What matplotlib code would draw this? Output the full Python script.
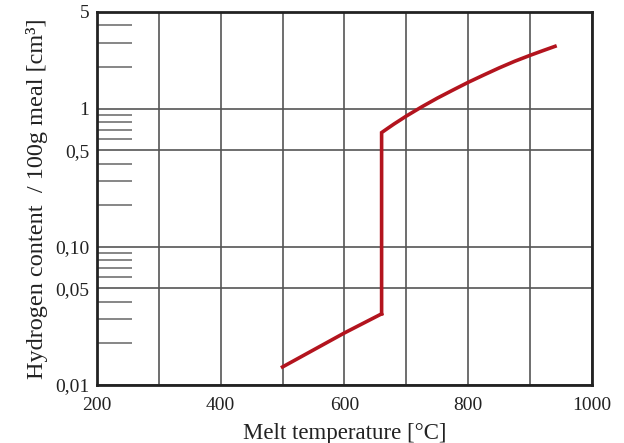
import matplotlib
matplotlib.use("Agg")
import matplotlib.pyplot as plt
from matplotlib.ticker import FixedLocator

# Hydrogen solubility curve
temp_solid = [500, 600, 660]
h2_solid = [0.0135, 0.0238, 0.0327]

temp_liquid = [660, 660, 670, 680, 690, 700, 725, 750, 775, 800,
               825, 850, 875, 900, 920, 940]
h2_liquid = [0.0327, 0.67, 0.72, 0.773, 0.826, 0.883, 1.03, 1.19, 1.36, 1.55,
             1.75, 1.97, 2.2, 2.43, 2.62, 2.82]

x_ticks = [200, 400, 600, 800, 1000]
x_grid = [300, 500, 700, 900]
y_ticks = [0.01, 0.05, 0.1, 0.5, 1, 5]
y_labels = ["0,01", "0,05", "0,10", "0,5", "1", "5"]
y_minor = [0.02, 0.03, 0.04, 0.06, 0.07, 0.08, 0.09,
           0.2, 0.3, 0.4, 0.6, 0.7, 0.8, 0.9,
           2, 3, 4]

plt.rcParams['font.family'] = ['Liberation Serif', 'DejaVu Serif']

fig = plt.figure(figsize=(6.24, 4.43), dpi=100)
ax = fig.add_axes([0.155, 0.131, 0.794, 0.842])

ax.plot(temp_solid, h2_solid, color="#b3141e", lw=2.6, solid_joinstyle="miter")
ax.plot(temp_liquid, h2_liquid, color="#b3141e", lw=2.6, solid_joinstyle="miter")

ax.set_yscale("log")
ax.set_xlim(200, 1000)
ax.set_ylim(0.01, 5)

all_x = sorted(x_ticks + x_grid)
ax.set_xticks(all_x)
ax.set_xticklabels([str(t) if t in x_ticks else "" for t in all_x])
ax.set_yticks(y_ticks)
ax.set_yticklabels(y_labels)
ax.yaxis.set_minor_locator(FixedLocator(y_minor))
ax.yaxis.set_minor_formatter(plt.NullFormatter())

ax.grid(True, which="major", color="#555555", lw=1.2)
ax.tick_params(which="major", length=0, labelsize=14, labelcolor="#222222")
ax.tick_params(axis="x", which="major", pad=9)
ax.tick_params(axis="y", which="major", pad=5.5)
ax.tick_params(axis="y", which="minor", direction="in", length=25,
               width=1.1, color="#666666", left=True)
ax.tick_params(axis="x", which="minor", length=0)

for s in ax.spines.values():
    s.set_linewidth(2)
    s.set_color("#222222")

ax.set_xlabel("Melt temperature [°C]", fontsize=16.5, labelpad=6, color="#222222")
ax.set_ylabel("Hydrogen content  / 100g meal [cm³]", fontsize=17.5, labelpad=5,
              color="#222222")

fig.savefig("out.png", dpi=100)
